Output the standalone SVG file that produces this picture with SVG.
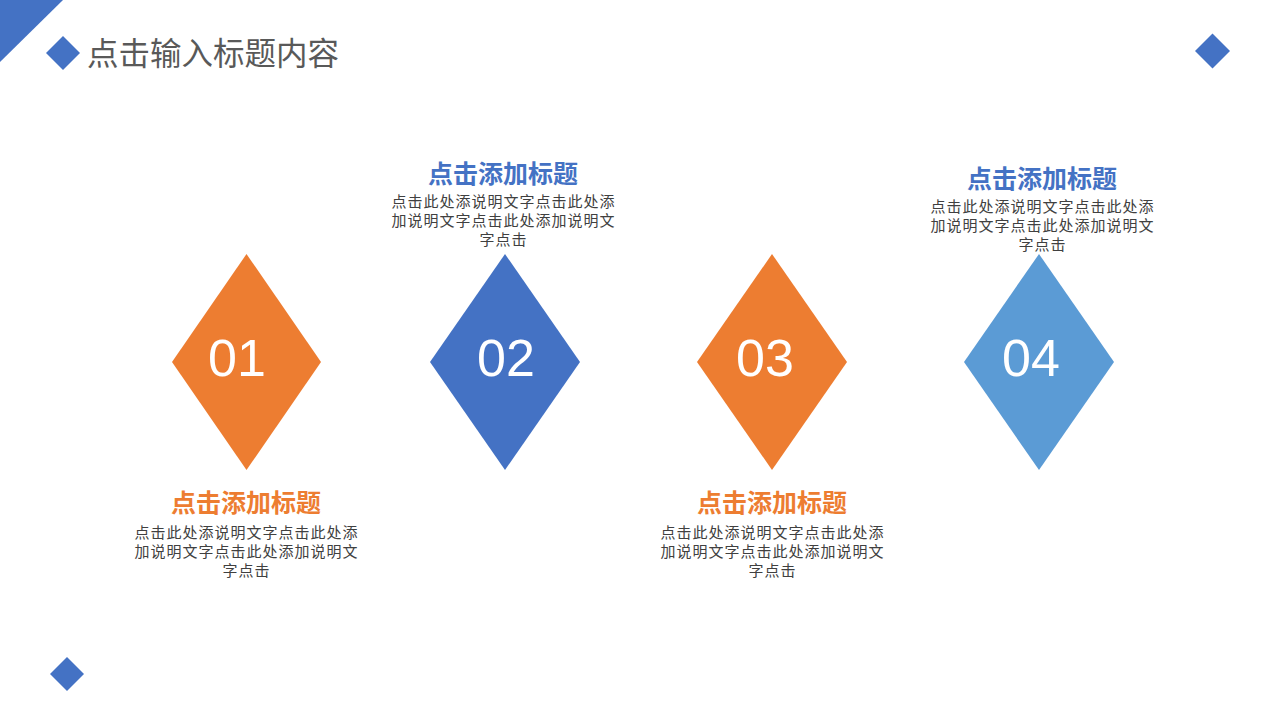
<svg xmlns="http://www.w3.org/2000/svg" width="1280" height="720" viewBox="0 0 1280 720">
<style>
.cn{font-family:"Noto Sans CJK SC","Noto Sans",sans-serif;}
.title{font-size:31.5px;fill:#595959;}
.h{font-size:25px;font-weight:bold;text-anchor:middle;}
.b{font-size:15px;letter-spacing:1px;fill:#404040;text-anchor:middle;}
.num{font-family:"Liberation Sans","DejaVu Sans",sans-serif;font-size:52px;fill:#ffffff;text-anchor:middle;}
.orange{fill:#ED7D31;}
.blue{fill:#4472C4;}
.lblue{fill:#5B9BD5;}
</style>
<rect width="1280" height="720" fill="#ffffff"/>
<g id="decor">
<polygon points="0,0 63,0 0,62" fill="#4472C4"/>
<polygon points="63,36 80,53 63,70 46,53" fill="#4472C4"/>
<polygon points="1212.5,33.5 1230,51 1212.5,68.5 1195,51" fill="#4472C4"/>
<polygon points="67,657 84,674 67,691 50,674" fill="#4472C4"/>
</g>
<g id="title"><text class="cn title" x="87" y="65">点击输入标题内容</text></g>
<g id="connectors"></g>
<g id="node1">
<polygon class="orange" points="246.5,254 321,362 246.5,470 172,362"/>
<text class="num" x="237" y="376">01</text>
<text class="cn h" x="246" y="512" fill="#ED7D31">点击添加标题</text>
<text class="cn b" x="246.5" y="538">点击此处添说明文字点击此处添</text>
<text class="cn b" x="246.5" y="557">加说明文字点击此处添加说明文</text>
<text class="cn b" x="246.5" y="576">字点击</text>
</g>
<g id="node2">
<polygon class="blue" points="505,254 580,362 505,470 430,362"/>
<text class="num" x="506" y="376">02</text>
<text class="cn h" x="503" y="183" fill="#4472C4">点击添加标题</text>
<text class="cn b" x="503.5" y="207">点击此处添说明文字点击此处添</text>
<text class="cn b" x="503.5" y="226">加说明文字点击此处添加说明文</text>
<text class="cn b" x="503.5" y="245">字点击</text>
</g>
<g id="node3">
<polygon class="orange" points="772,254 847,362 772,470 697,362"/>
<text class="num" x="765" y="376">03</text>
<text class="cn h" x="772" y="512" fill="#ED7D31">点击添加标题</text>
<text class="cn b" x="772.5" y="538">点击此处添说明文字点击此处添</text>
<text class="cn b" x="772.5" y="557">加说明文字点击此处添加说明文</text>
<text class="cn b" x="772.5" y="576">字点击</text>
</g>
<g id="node4">
<polygon class="lblue" points="1039,254 1114,362 1039,470 964,362"/>
<text class="num" x="1031" y="376">04</text>
<text class="cn h" x="1042" y="188" fill="#4472C4">点击添加标题</text>
<text class="cn b" x="1042.5" y="212">点击此处添说明文字点击此处添</text>
<text class="cn b" x="1042.5" y="231">加说明文字点击此处添加说明文</text>
<text class="cn b" x="1042.5" y="250">字点击</text>
</g>
</svg>
